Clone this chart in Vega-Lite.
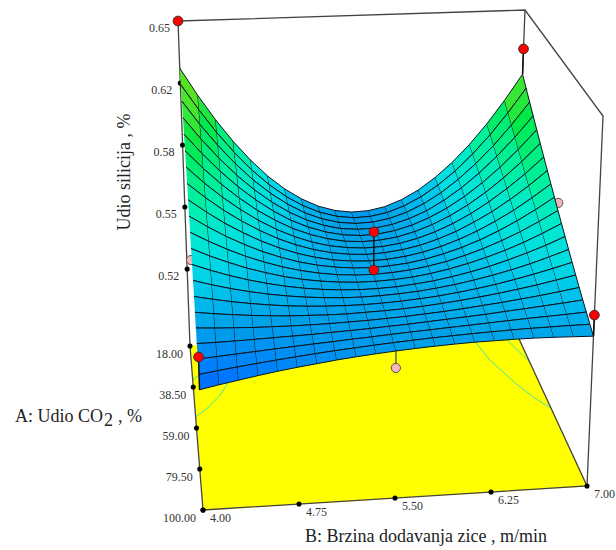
{"$schema":"https://vega.github.io/schema/vega-lite/v6.json","width":616,"height":550,"padding":0,"autosize":{"type":"fit","contains":"padding"},"background":"white","config":{"view":{"stroke":null}},
"data":{"values":[
{"k":"floor","o":0,"A":18,"B":4,"z":0.4796},{"k":"floor","o":1,"A":18,"B":7,"z":0.4796},{"k":"floor","o":2,"A":100,"B":7,"z":0.4796},{"k":"floor","o":3,"A":100,"B":4,"z":0.4796},
{"k":"frame","g":"a","o":0,"A":18,"B":4,"z":0.65},{"k":"frame","g":"a","o":1,"A":18,"B":7,"z":0.65},{"k":"frame","g":"a","o":2,"A":100,"B":7,"z":0.65},{"k":"frame","g":"a","o":3,"A":100,"B":7,"z":0.4796},
{"k":"frame","g":"b","o":0,"A":18,"B":4,"z":0.65},{"k":"frame","g":"b","o":1,"A":18,"B":4,"z":0.4796},{"k":"frame","g":"b","o":2,"A":100,"B":4,"z":0.4796},{"k":"frame","g":"b","o":3,"A":100,"B":7,"z":0.4796},{"k":"frame","g":"b","o":4,"A":18,"B":7,"z":0.4796},
{"k":"frame","g":"c","o":0,"A":18,"B":7,"z":0.65},{"k":"frame","g":"c","o":1,"A":18,"B":7,"z":0.6155},
{"k":"cont","g":"a","o":0,"A":53.5,"B":4,"z":0.4796},{"k":"cont","g":"a","o":1,"A":48.9,"B":4.12,"z":0.4796},{"k":"cont","g":"a","o":2,"A":43.3,"B":4.23,"z":0.4796},{"k":"cont","g":"a","o":3,"A":37.5,"B":4.31,"z":0.4796},
{"k":"cont","g":"b","o":0,"A":35,"B":4,"z":0.4796},{"k":"cont","g":"b","o":1,"A":33.2,"B":4.05,"z":0.4796},
{"k":"cont","g":"c","o":0,"A":24.8,"B":6.6,"z":0.4796},{"k":"cont","g":"c","o":1,"A":34.2,"B":6.66,"z":0.4796},{"k":"cont","g":"c","o":2,"A":46,"B":6.79,"z":0.4796},{"k":"cont","g":"c","o":3,"A":54.5,"B":6.9,"z":0.4796},{"k":"cont","g":"c","o":4,"A":60,"B":7,"z":0.4796},
{"k":"cont","g":"d","o":0,"A":24.8,"B":6.89,"z":0.4796},{"k":"cont","g":"d","o":1,"A":36.5,"B":7,"z":0.4796},
{"k":"zl","t":"0.65","A":18,"B":4,"z":0.65},{"k":"zl","t":"0.62","A":18,"B":4,"z":0.6175},{"k":"zl","t":"0.58","A":18,"B":4,"z":0.585},{"k":"zl","t":"0.55","A":18,"B":4,"z":0.5525},{"k":"zl","t":"0.52","A":18,"B":4,"z":0.52},
{"k":"al","t":"18.00","A":18,"B":4,"z":0.4796},{"k":"al","t":"38.50","A":38.5,"B":4,"z":0.4796},{"k":"al","t":"59.00","A":59,"B":4,"z":0.4796},{"k":"al","t":"79.50","A":79.5,"B":4,"z":0.4796},{"k":"al","t":"100.00","A":100,"B":4,"z":0.4796},
{"k":"bl","t":"4.00","A":100,"B":4,"z":0.4796},{"k":"bl","t":"4.75","A":100,"B":4.75,"z":0.4796},{"k":"bl","t":"5.50","A":100,"B":5.5,"z":0.4796},{"k":"bl","t":"6.25","A":100,"B":6.25,"z":0.4796},{"k":"bl","t":"7.00","A":100,"B":7,"z":0.4796},
{"k":"tz","t":"Udio silicija , %","A":18,"B":4,"z":0.585},{"k":"ta","t":"A: Udio CO","A":59,"B":4,"z":0.4796},{"k":"ta2","t":"2","A":59,"B":4,"z":0.4796},{"k":"ta3","t":", %","A":59,"B":4,"z":0.4796},{"k":"tb","t":"B: Brzina dodavanja zice , m/min","A":100,"B":5.5,"z":0.4796},
{"k":"pink","g":"a","o":0,"A":100,"B":5.5,"z":0.5387},{"k":"pink","g":"b","o":0,"A":59,"B":7,"z":0.5805},{"k":"pink","g":"c","o":0,"A":59,"B":4,"z":0.5608},
{"k":"pstem","g":"a","o":0,"A":100,"B":5.5,"z":0.5387},{"k":"pstem","g":"a","o":1,"A":100,"B":5.5,"z":0.5464},
{"k":"red","A":18,"B":4,"z":0.65},{"k":"red","A":18,"B":7,"z":0.629},{"k":"red","A":100,"B":7,"z":0.5583},{"k":"red","A":100,"B":4,"z":0.5482},{"k":"red","A":59,"B":5.5,"z":0.5703},{"k":"red","A":59,"B":5.5,"z":0.5516},
{"k":"rstem","g":"a","o":0,"A":18,"B":7,"z":0.629},{"k":"rstem","g":"a","o":1,"A":18,"B":7,"z":0.6155},{"k":"rstem","g":"b","o":0,"A":100,"B":7,"z":0.5583},{"k":"rstem","g":"b","o":1,"A":100,"B":7,"z":0.5487},{"k":"rstem","g":"c","o":0,"A":100,"B":4,"z":0.5482},{"k":"rstem","g":"c","o":1,"A":100,"B":4,"z":0.5334},{"k":"rstem","g":"d","o":0,"A":59,"B":5.5,"z":0.5703},{"k":"rstem","g":"d","o":1,"A":59,"B":5.5,"z":0.5495},
{"A":18,"B":4,"z":0.6253},{"A":18,"B":4.15,"z":0.6106},{"A":18,"B":4.3,"z":0.5974},{"A":18,"B":4.45,"z":0.5857},{"A":18,"B":4.6,"z":0.5755},{"A":18,"B":4.75,"z":0.5667},{"A":18,"B":4.9,"z":0.5595},{"A":18,"B":5.05,"z":0.5538},{"A":18,"B":5.2,"z":0.5495},{"A":18,"B":5.35,"z":0.5468},{"A":18,"B":5.5,"z":0.5455},{"A":18,"B":5.65,"z":0.5458},{"A":18,"B":5.8,"z":0.5475},{"A":18,"B":5.95,"z":0.5508},{"A":18,"B":6.1,"z":0.5555},{"A":18,"B":6.25,"z":0.5618},{"A":18,"B":6.4,"z":0.5695},{"A":18,"B":6.55,"z":0.5787},{"A":18,"B":6.7,"z":0.5894},{"A":18,"B":6.85,"z":0.6017},{"A":18,"B":7,"z":0.6154},
{"A":22.1,"B":4,"z":0.6197},{"A":22.1,"B":4.15,"z":0.6062},{"A":22.1,"B":4.3,"z":0.594},{"A":22.1,"B":4.45,"z":0.5832},{"A":22.1,"B":4.6,"z":0.5737},{"A":22.1,"B":4.75,"z":0.5657},{"A":22.1,"B":4.9,"z":0.559},{"A":22.1,"B":5.05,"z":0.5538},{"A":22.1,"B":5.2,"z":0.5499},{"A":22.1,"B":5.35,"z":0.5474},{"A":22.1,"B":5.5,"z":0.5462},{"A":22.1,"B":5.65,"z":0.5465},{"A":22.1,"B":5.8,"z":0.5481},{"A":22.1,"B":5.95,"z":0.5512},{"A":22.1,"B":6.1,"z":0.5556},{"A":22.1,"B":6.25,"z":0.5614},{"A":22.1,"B":6.4,"z":0.5685},{"A":22.1,"B":6.55,"z":0.5771},{"A":22.1,"B":6.7,"z":0.587},{"A":22.1,"B":6.85,"z":0.5983},{"A":22.1,"B":7,"z":0.611},
{"A":26.2,"B":4,"z":0.6143},{"A":26.2,"B":4.15,"z":0.6018},{"A":26.2,"B":4.3,"z":0.5906},{"A":26.2,"B":4.45,"z":0.5807},{"A":26.2,"B":4.6,"z":0.572},{"A":26.2,"B":4.75,"z":0.5647},{"A":26.2,"B":4.9,"z":0.5586},{"A":26.2,"B":5.05,"z":0.5537},{"A":26.2,"B":5.2,"z":0.5502},{"A":26.2,"B":5.35,"z":0.5479},{"A":26.2,"B":5.5,"z":0.5469},{"A":26.2,"B":5.65,"z":0.5472},{"A":26.2,"B":5.8,"z":0.5487},{"A":26.2,"B":5.95,"z":0.5515},{"A":26.2,"B":6.1,"z":0.5556},{"A":26.2,"B":6.25,"z":0.5609},{"A":26.2,"B":6.4,"z":0.5676},{"A":26.2,"B":6.55,"z":0.5755},{"A":26.2,"B":6.7,"z":0.5846},{"A":26.2,"B":6.85,"z":0.5951},{"A":26.2,"B":7,"z":0.6068},
{"A":30.3,"B":4,"z":0.6089},{"A":30.3,"B":4.15,"z":0.5975},{"A":30.3,"B":4.3,"z":0.5873},{"A":30.3,"B":4.45,"z":0.5782},{"A":30.3,"B":4.6,"z":0.5703},{"A":30.3,"B":4.75,"z":0.5636},{"A":30.3,"B":4.9,"z":0.558},{"A":30.3,"B":5.05,"z":0.5536},{"A":30.3,"B":5.2,"z":0.5504},{"A":30.3,"B":5.35,"z":0.5483},{"A":30.3,"B":5.5,"z":0.5475},{"A":30.3,"B":5.65,"z":0.5477},{"A":30.3,"B":5.8,"z":0.5492},{"A":30.3,"B":5.95,"z":0.5518},{"A":30.3,"B":6.1,"z":0.5555},{"A":30.3,"B":6.25,"z":0.5605},{"A":30.3,"B":6.4,"z":0.5666},{"A":30.3,"B":6.55,"z":0.5739},{"A":30.3,"B":6.7,"z":0.5823},{"A":30.3,"B":6.85,"z":0.5919},{"A":30.3,"B":7,"z":0.6027},
{"A":34.4,"B":4,"z":0.6036},{"A":34.4,"B":4.15,"z":0.5933},{"A":34.4,"B":4.3,"z":0.584},{"A":34.4,"B":4.45,"z":0.5757},{"A":34.4,"B":4.6,"z":0.5686},{"A":34.4,"B":4.75,"z":0.5625},{"A":34.4,"B":4.9,"z":0.5574},{"A":34.4,"B":5.05,"z":0.5535},{"A":34.4,"B":5.2,"z":0.5506},{"A":34.4,"B":5.35,"z":0.5487},{"A":34.4,"B":5.5,"z":0.5479},{"A":34.4,"B":5.65,"z":0.5482},{"A":34.4,"B":5.8,"z":0.5496},{"A":34.4,"B":5.95,"z":0.552},{"A":34.4,"B":6.1,"z":0.5555},{"A":34.4,"B":6.25,"z":0.56},{"A":34.4,"B":6.4,"z":0.5656},{"A":34.4,"B":6.55,"z":0.5723},{"A":34.4,"B":6.7,"z":0.58},{"A":34.4,"B":6.85,"z":0.5888},{"A":34.4,"B":7,"z":0.5986},
{"A":38.5,"B":4,"z":0.5984},{"A":38.5,"B":4.15,"z":0.5891},{"A":38.5,"B":4.3,"z":0.5807},{"A":38.5,"B":4.45,"z":0.5733},{"A":38.5,"B":4.6,"z":0.5668},{"A":38.5,"B":4.75,"z":0.5614},{"A":38.5,"B":4.9,"z":0.5568},{"A":38.5,"B":5.05,"z":0.5533},{"A":38.5,"B":5.2,"z":0.5507},{"A":38.5,"B":5.35,"z":0.549},{"A":38.5,"B":5.5,"z":0.5484},{"A":38.5,"B":5.65,"z":0.5487},{"A":38.5,"B":5.8,"z":0.5499},{"A":38.5,"B":5.95,"z":0.5522},{"A":38.5,"B":6.1,"z":0.5554},{"A":38.5,"B":6.25,"z":0.5595},{"A":38.5,"B":6.4,"z":0.5646},{"A":38.5,"B":6.55,"z":0.5707},{"A":38.5,"B":6.7,"z":0.5778},{"A":38.5,"B":6.85,"z":0.5858},{"A":38.5,"B":7,"z":0.5947},
{"A":42.6,"B":4,"z":0.5934},{"A":42.6,"B":4.15,"z":0.585},{"A":42.6,"B":4.3,"z":0.5775},{"A":42.6,"B":4.45,"z":0.5709},{"A":42.6,"B":4.6,"z":0.5651},{"A":42.6,"B":4.75,"z":0.5602},{"A":42.6,"B":4.9,"z":0.5562},{"A":42.6,"B":5.05,"z":0.553},{"A":42.6,"B":5.2,"z":0.5507},{"A":42.6,"B":5.35,"z":0.5493},{"A":42.6,"B":5.5,"z":0.5487},{"A":42.6,"B":5.65,"z":0.549},{"A":42.6,"B":5.8,"z":0.5502},{"A":42.6,"B":5.95,"z":0.5523},{"A":42.6,"B":6.1,"z":0.5552},{"A":42.6,"B":6.25,"z":0.559},{"A":42.6,"B":6.4,"z":0.5636},{"A":42.6,"B":6.55,"z":0.5692},{"A":42.6,"B":6.7,"z":0.5756},{"A":42.6,"B":6.85,"z":0.5828},{"A":42.6,"B":7,"z":0.5909},
{"A":46.7,"B":4,"z":0.5884},{"A":46.7,"B":4.15,"z":0.581},{"A":46.7,"B":4.3,"z":0.5743},{"A":46.7,"B":4.45,"z":0.5685},{"A":46.7,"B":4.6,"z":0.5634},{"A":46.7,"B":4.75,"z":0.559},{"A":46.7,"B":4.9,"z":0.5555},{"A":46.7,"B":5.05,"z":0.5527},{"A":46.7,"B":5.2,"z":0.5507},{"A":46.7,"B":5.35,"z":0.5495},{"A":46.7,"B":5.5,"z":0.549},{"A":46.7,"B":5.65,"z":0.5494},{"A":46.7,"B":5.8,"z":0.5505},{"A":46.7,"B":5.95,"z":0.5523},{"A":46.7,"B":6.1,"z":0.555},{"A":46.7,"B":6.25,"z":0.5584},{"A":46.7,"B":6.4,"z":0.5627},{"A":46.7,"B":6.55,"z":0.5676},{"A":46.7,"B":6.7,"z":0.5734},{"A":46.7,"B":6.85,"z":0.5799},{"A":46.7,"B":7,"z":0.5872},
{"A":50.8,"B":4,"z":0.5836},{"A":50.8,"B":4.15,"z":0.5771},{"A":50.8,"B":4.3,"z":0.5712},{"A":50.8,"B":4.45,"z":0.5661},{"A":50.8,"B":4.6,"z":0.5616},{"A":50.8,"B":4.75,"z":0.5578},{"A":50.8,"B":4.9,"z":0.5547},{"A":50.8,"B":5.05,"z":0.5523},{"A":50.8,"B":5.2,"z":0.5506},{"A":50.8,"B":5.35,"z":0.5496},{"A":50.8,"B":5.5,"z":0.5492},{"A":50.8,"B":5.65,"z":0.5496},{"A":50.8,"B":5.8,"z":0.5506},{"A":50.8,"B":5.95,"z":0.5523},{"A":50.8,"B":6.1,"z":0.5547},{"A":50.8,"B":6.25,"z":0.5578},{"A":50.8,"B":6.4,"z":0.5616},{"A":50.8,"B":6.55,"z":0.5661},{"A":50.8,"B":6.7,"z":0.5712},{"A":50.8,"B":6.85,"z":0.5771},{"A":50.8,"B":7,"z":0.5836},
{"A":54.9,"B":4,"z":0.5788},{"A":54.9,"B":4.15,"z":0.5732},{"A":54.9,"B":4.3,"z":0.5681},{"A":54.9,"B":4.45,"z":0.5637},{"A":54.9,"B":4.6,"z":0.5598},{"A":54.9,"B":4.75,"z":0.5566},{"A":54.9,"B":4.9,"z":0.5539},{"A":54.9,"B":5.05,"z":0.5519},{"A":54.9,"B":5.2,"z":0.5505},{"A":54.9,"B":5.35,"z":0.5496},{"A":54.9,"B":5.5,"z":0.5494},{"A":54.9,"B":5.65,"z":0.5498},{"A":54.9,"B":5.8,"z":0.5507},{"A":54.9,"B":5.95,"z":0.5523},{"A":54.9,"B":6.1,"z":0.5545},{"A":54.9,"B":6.25,"z":0.5572},{"A":54.9,"B":6.4,"z":0.5606},{"A":54.9,"B":6.55,"z":0.5646},{"A":54.9,"B":6.7,"z":0.5692},{"A":54.9,"B":6.85,"z":0.5744},{"A":54.9,"B":7,"z":0.5801},
{"A":59,"B":4,"z":0.5742},{"A":59,"B":4.15,"z":0.5694},{"A":59,"B":4.3,"z":0.5651},{"A":59,"B":4.45,"z":0.5613},{"A":59,"B":4.6,"z":0.5581},{"A":59,"B":4.75,"z":0.5553},{"A":59,"B":4.9,"z":0.5531},{"A":59,"B":5.05,"z":0.5514},{"A":59,"B":5.2,"z":0.5502},{"A":59,"B":5.35,"z":0.5496},{"A":59,"B":5.5,"z":0.5495},{"A":59,"B":5.65,"z":0.5499},{"A":59,"B":5.8,"z":0.5508},{"A":59,"B":5.95,"z":0.5522},{"A":59,"B":6.1,"z":0.5541},{"A":59,"B":6.25,"z":0.5566},{"A":59,"B":6.4,"z":0.5596},{"A":59,"B":6.55,"z":0.5631},{"A":59,"B":6.7,"z":0.5671},{"A":59,"B":6.85,"z":0.5717},{"A":59,"B":7,"z":0.5767},
{"A":63.1,"B":4,"z":0.5696},{"A":63.1,"B":4.15,"z":0.5656},{"A":63.1,"B":4.3,"z":0.5621},{"A":63.1,"B":4.45,"z":0.5589},{"A":63.1,"B":4.6,"z":0.5563},{"A":63.1,"B":4.75,"z":0.554},{"A":63.1,"B":4.9,"z":0.5522},{"A":63.1,"B":5.05,"z":0.5509},{"A":63.1,"B":5.2,"z":0.55},{"A":63.1,"B":5.35,"z":0.5495},{"A":63.1,"B":5.5,"z":0.5495},{"A":63.1,"B":5.65,"z":0.5499},{"A":63.1,"B":5.8,"z":0.5507},{"A":63.1,"B":5.95,"z":0.552},{"A":63.1,"B":6.1,"z":0.5538},{"A":63.1,"B":6.25,"z":0.556},{"A":63.1,"B":6.4,"z":0.5586},{"A":63.1,"B":6.55,"z":0.5616},{"A":63.1,"B":6.7,"z":0.5651},{"A":63.1,"B":6.85,"z":0.5691},{"A":63.1,"B":7,"z":0.5735},
{"A":67.2,"B":4,"z":0.5652},{"A":67.2,"B":4.15,"z":0.562},{"A":67.2,"B":4.3,"z":0.5591},{"A":67.2,"B":4.45,"z":0.5566},{"A":67.2,"B":4.6,"z":0.5545},{"A":67.2,"B":4.75,"z":0.5527},{"A":67.2,"B":4.9,"z":0.5513},{"A":67.2,"B":5.05,"z":0.5503},{"A":67.2,"B":5.2,"z":0.5496},{"A":67.2,"B":5.35,"z":0.5493},{"A":67.2,"B":5.5,"z":0.5494},{"A":67.2,"B":5.65,"z":0.5498},{"A":67.2,"B":5.8,"z":0.5507},{"A":67.2,"B":5.95,"z":0.5518},{"A":67.2,"B":6.1,"z":0.5534},{"A":67.2,"B":6.25,"z":0.5553},{"A":67.2,"B":6.4,"z":0.5575},{"A":67.2,"B":6.55,"z":0.5602},{"A":67.2,"B":6.7,"z":0.5632},{"A":67.2,"B":6.85,"z":0.5665},{"A":67.2,"B":7,"z":0.5703},
{"A":71.3,"B":4,"z":0.5609},{"A":71.3,"B":4.15,"z":0.5584},{"A":71.3,"B":4.3,"z":0.5562},{"A":71.3,"B":4.45,"z":0.5543},{"A":71.3,"B":4.6,"z":0.5527},{"A":71.3,"B":4.75,"z":0.5514},{"A":71.3,"B":4.9,"z":0.5504},{"A":71.3,"B":5.05,"z":0.5497},{"A":71.3,"B":5.2,"z":0.5492},{"A":71.3,"B":5.35,"z":0.5491},{"A":71.3,"B":5.5,"z":0.5493},{"A":71.3,"B":5.65,"z":0.5498},{"A":71.3,"B":5.8,"z":0.5505},{"A":71.3,"B":5.95,"z":0.5516},{"A":71.3,"B":6.1,"z":0.5529},{"A":71.3,"B":6.25,"z":0.5546},{"A":71.3,"B":6.4,"z":0.5565},{"A":71.3,"B":6.55,"z":0.5587},{"A":71.3,"B":6.7,"z":0.5612},{"A":71.3,"B":6.85,"z":0.5641},{"A":71.3,"B":7,"z":0.5672},
{"A":75.4,"B":4,"z":0.5566},{"A":75.4,"B":4.15,"z":0.5549},{"A":75.4,"B":4.3,"z":0.5533},{"A":75.4,"B":4.45,"z":0.552},{"A":75.4,"B":4.6,"z":0.5509},{"A":75.4,"B":4.75,"z":0.55},{"A":75.4,"B":4.9,"z":0.5494},{"A":75.4,"B":5.05,"z":0.549},{"A":75.4,"B":5.2,"z":0.5488},{"A":75.4,"B":5.35,"z":0.5488},{"A":75.4,"B":5.5,"z":0.5491},{"A":75.4,"B":5.65,"z":0.5496},{"A":75.4,"B":5.8,"z":0.5503},{"A":75.4,"B":5.95,"z":0.5512},{"A":75.4,"B":6.1,"z":0.5524},{"A":75.4,"B":6.25,"z":0.5538},{"A":75.4,"B":6.4,"z":0.5554},{"A":75.4,"B":6.55,"z":0.5573},{"A":75.4,"B":6.7,"z":0.5594},{"A":75.4,"B":6.85,"z":0.5617},{"A":75.4,"B":7,"z":0.5642},
{"A":79.5,"B":4,"z":0.5525},{"A":79.5,"B":4.15,"z":0.5514},{"A":79.5,"B":4.3,"z":0.5505},{"A":79.5,"B":4.45,"z":0.5497},{"A":79.5,"B":4.6,"z":0.5491},{"A":79.5,"B":4.75,"z":0.5486},{"A":79.5,"B":4.9,"z":0.5484},{"A":79.5,"B":5.05,"z":0.5482},{"A":79.5,"B":5.2,"z":0.5482},{"A":79.5,"B":5.35,"z":0.5485},{"A":79.5,"B":5.5,"z":0.5488},{"A":79.5,"B":5.65,"z":0.5493},{"A":79.5,"B":5.8,"z":0.55},{"A":79.5,"B":5.95,"z":0.5509},{"A":79.5,"B":6.1,"z":0.5519},{"A":79.5,"B":6.25,"z":0.5531},{"A":79.5,"B":6.4,"z":0.5544},{"A":79.5,"B":6.55,"z":0.5559},{"A":79.5,"B":6.7,"z":0.5575},{"A":79.5,"B":6.85,"z":0.5594},{"A":79.5,"B":7,"z":0.5613},
{"A":83.6,"B":4,"z":0.5485},{"A":83.6,"B":4.15,"z":0.548},{"A":83.6,"B":4.3,"z":0.5477},{"A":83.6,"B":4.45,"z":0.5474},{"A":83.6,"B":4.6,"z":0.5473},{"A":83.6,"B":4.75,"z":0.5472},{"A":83.6,"B":4.9,"z":0.5473},{"A":83.6,"B":5.05,"z":0.5474},{"A":83.6,"B":5.2,"z":0.5477},{"A":83.6,"B":5.35,"z":0.548},{"A":83.6,"B":5.5,"z":0.5485},{"A":83.6,"B":5.65,"z":0.549},{"A":83.6,"B":5.8,"z":0.5497},{"A":83.6,"B":5.95,"z":0.5504},{"A":83.6,"B":6.1,"z":0.5513},{"A":83.6,"B":6.25,"z":0.5523},{"A":83.6,"B":6.4,"z":0.5533},{"A":83.6,"B":6.55,"z":0.5545},{"A":83.6,"B":6.7,"z":0.5557},{"A":83.6,"B":6.85,"z":0.5571},{"A":83.6,"B":7,"z":0.5586},
{"A":87.7,"B":4,"z":0.5446},{"A":87.7,"B":4.15,"z":0.5447},{"A":87.7,"B":4.3,"z":0.5449},{"A":87.7,"B":4.45,"z":0.5452},{"A":87.7,"B":4.6,"z":0.5455},{"A":87.7,"B":4.75,"z":0.5458},{"A":87.7,"B":4.9,"z":0.5461},{"A":87.7,"B":5.05,"z":0.5466},{"A":87.7,"B":5.2,"z":0.547},{"A":87.7,"B":5.35,"z":0.5475},{"A":87.7,"B":5.5,"z":0.5481},{"A":87.7,"B":5.65,"z":0.5486},{"A":87.7,"B":5.8,"z":0.5493},{"A":87.7,"B":5.95,"z":0.55},{"A":87.7,"B":6.1,"z":0.5507},{"A":87.7,"B":6.25,"z":0.5514},{"A":87.7,"B":6.4,"z":0.5523},{"A":87.7,"B":6.55,"z":0.5531},{"A":87.7,"B":6.7,"z":0.554},{"A":87.7,"B":6.85,"z":0.5549},{"A":87.7,"B":7,"z":0.5559},
{"A":91.8,"B":4,"z":0.5408},{"A":91.8,"B":4.15,"z":0.5415},{"A":91.8,"B":4.3,"z":0.5422},{"A":91.8,"B":4.45,"z":0.5429},{"A":91.8,"B":4.6,"z":0.5436},{"A":91.8,"B":4.75,"z":0.5443},{"A":91.8,"B":4.9,"z":0.545},{"A":91.8,"B":5.05,"z":0.5456},{"A":91.8,"B":5.2,"z":0.5463},{"A":91.8,"B":5.35,"z":0.5469},{"A":91.8,"B":5.5,"z":0.5476},{"A":91.8,"B":5.65,"z":0.5482},{"A":91.8,"B":5.8,"z":0.5488},{"A":91.8,"B":5.95,"z":0.5494},{"A":91.8,"B":6.1,"z":0.55},{"A":91.8,"B":6.25,"z":0.5506},{"A":91.8,"B":6.4,"z":0.5512},{"A":91.8,"B":6.55,"z":0.5518},{"A":91.8,"B":6.7,"z":0.5523},{"A":91.8,"B":6.85,"z":0.5528},{"A":91.8,"B":7,"z":0.5534},
{"A":95.9,"B":4,"z":0.5371},{"A":95.9,"B":4.15,"z":0.5384},{"A":95.9,"B":4.3,"z":0.5396},{"A":95.9,"B":4.45,"z":0.5407},{"A":95.9,"B":4.6,"z":0.5418},{"A":95.9,"B":4.75,"z":0.5428},{"A":95.9,"B":4.9,"z":0.5438},{"A":95.9,"B":5.05,"z":0.5447},{"A":95.9,"B":5.2,"z":0.5455},{"A":95.9,"B":5.35,"z":0.5463},{"A":95.9,"B":5.5,"z":0.547},{"A":95.9,"B":5.65,"z":0.5477},{"A":95.9,"B":5.8,"z":0.5483},{"A":95.9,"B":5.95,"z":0.5488},{"A":95.9,"B":6.1,"z":0.5493},{"A":95.9,"B":6.25,"z":0.5497},{"A":95.9,"B":6.4,"z":0.5501},{"A":95.9,"B":6.55,"z":0.5504},{"A":95.9,"B":6.7,"z":0.5506},{"A":95.9,"B":6.85,"z":0.5508},{"A":95.9,"B":7,"z":0.5509},
{"A":100,"B":4,"z":0.5335},{"A":100,"B":4.15,"z":0.5353},{"A":100,"B":4.3,"z":0.5369},{"A":100,"B":4.45,"z":0.5385},{"A":100,"B":4.6,"z":0.54},{"A":100,"B":4.75,"z":0.5413},{"A":100,"B":4.9,"z":0.5425},{"A":100,"B":5.05,"z":0.5437},{"A":100,"B":5.2,"z":0.5447},{"A":100,"B":5.35,"z":0.5456},{"A":100,"B":5.5,"z":0.5464},{"A":100,"B":5.65,"z":0.5471},{"A":100,"B":5.8,"z":0.5477},{"A":100,"B":5.95,"z":0.5482},{"A":100,"B":6.1,"z":0.5486},{"A":100,"B":6.25,"z":0.5488},{"A":100,"B":6.4,"z":0.549},{"A":100,"B":6.55,"z":0.5491},{"A":100,"B":6.7,"z":0.549},{"A":100,"B":6.85,"z":0.5488},{"A":100,"B":7,"z":0.5486}
]},
"transform":[
{"calculate":"(datum.B-4)/3","as":"u"},{"calculate":"(datum.A-18)/82","as":"v"},{"calculate":"(datum.z-0.4796)/0.1704","as":"w"},
{"calculate":"(1-datum.w)*((1-datum.v)*((1-datum.u)*190+datum.u*513)+datum.v*((1-datum.u)*203+datum.u*587))+datum.w*((1-datum.v)*((1-datum.u)*178+datum.u*525)+datum.v*((1-datum.u)*192+datum.u*603))","as":"px"},
{"calculate":"(1-datum.w)*((1-datum.v)*((1-datum.u)*346+datum.u*326)+datum.v*((1-datum.u)*510+datum.u*486))+datum.w*((1-datum.v)*((1-datum.u)*21+datum.u*10)+datum.v*((1-datum.u)*130+datum.u*116))","as":"py"}
],
"encoding":{"x":{"field":"px","type":"quantitative","axis":null,"scale":{"domain":[0,616],"nice":false,"zero":false}},"y":{"field":"py","type":"quantitative","axis":null,"scale":{"domain":[0,550],"nice":false,"zero":false,"reverse":true}}},
"layer":[
{"transform":[{"filter":"datum.k=='floor'"}],"mark":{"type":"line","fill":"#ffff00","stroke":"#ffff00","strokeWidth":1},"encoding":{"order":{"field":"o"}}},
{"transform":[{"filter":"datum.k=='cont'"}],"mark":{"type":"line","stroke":"#3fe6a8","strokeWidth":1},"encoding":{"detail":{"field":"g"},"order":{"field":"o"}}},
{"transform":[{"filter":"datum.k=='frame'"}],"mark":{"type":"line","stroke":"#444444","strokeWidth":1.3},"encoding":{"detail":{"field":"g"},"order":{"field":"o"}}},
{"transform":[{"filter":"datum.k=='zl'||datum.k=='al'||datum.k=='bl'"}],"mark":{"type":"point","filled":true,"size":26,"color":"#000000","opacity":1}},
{"transform":[{"filter":"datum.k=='pstem'"}],"mark":{"type":"line","stroke":"#556b2f","strokeWidth":1.5},"encoding":{"detail":{"field":"g"},"order":{"field":"o"}}},
{"transform":[{"filter":"datum.k=='pink'"}],"mark":{"type":"point","filled":true,"size":85,"fill":"#f4b6b6","stroke":"#555555","strokeWidth":1,"opacity":1}},
{"transform":[{"filter":"!datum.k"},{"calculate":"round((datum.A-18)/4.1)","as":"i"},{"calculate":"round((datum.B-4)/0.15)","as":"j"},{"calculate":"[datum.i*100+datum.j,datum.i*100+datum.j-1,(datum.i-1)*100+datum.j-1,(datum.i-1)*100+datum.j]","as":"cell"},{"calculate":"[0,1,2,3]","as":"corner"},{"flatten":["cell","corner"]},{"filter":"datum.cell>=0&&datum.cell<2000&&datum.cell%100<20"},{"joinaggregate":[{"op":"mean","field":"z","as":"zm"}],"groupby":["cell"]}],
"mark":{"type":"line","stroke":"#0a1620","strokeWidth":1,"strokeJoin":"round"},
"encoding":{"detail":{"field":"cell"},"order":{"field":"corner"},"fill":{"field":"zm","type":"quantitative","legend":null,"scale":{"domain":[0.533,0.548,0.565,0.582,0.6,0.625],"range":["#0060ff","#00a0e8","#00e0e0","#00f0a0","#00e840","#70e000"]}}}},
{"transform":[{"filter":"datum.k=='rstem'"}],"mark":{"type":"line","stroke":"#111111","strokeWidth":1.5},"encoding":{"detail":{"field":"g"},"order":{"field":"o"}}},
{"transform":[{"filter":"datum.k=='red'"}],"mark":{"type":"point","filled":true,"size":95,"fill":"#ff0000","stroke":"#333333","strokeWidth":1,"opacity":1}},
{"transform":[{"filter":"datum.k=='zl'"}],"mark":{"type":"text","font":"Liberation Serif","fontSize":12,"color":"#333333","align":"right","baseline":"middle","dx":-8,"dy":7},"encoding":{"text":{"field":"t"}}},
{"transform":[{"filter":"datum.k=='al'"}],"mark":{"type":"text","font":"Liberation Serif","fontSize":12,"color":"#333333","align":"right","baseline":"middle","dx":-7,"dy":8},"encoding":{"text":{"field":"t"}}},
{"transform":[{"filter":"datum.k=='bl'"}],"mark":{"type":"text","font":"Liberation Serif","fontSize":12,"color":"#333333","align":"left","baseline":"middle","dx":7,"dy":8},"encoding":{"text":{"field":"t"}}},
{"transform":[{"filter":"datum.k=='tz'"}],"mark":{"type":"text","font":"Liberation Serif","fontSize":18,"color":"#222222","align":"center","baseline":"middle","angle":270,"dx":-27,"dy":-58},"encoding":{"text":{"field":"t"}}},
{"transform":[{"filter":"datum.k=='ta'"}],"mark":{"type":"text","font":"Liberation Serif","fontSize":18,"color":"#222222","align":"left","baseline":"middle","dx":-181.5,"dy":-11},"encoding":{"text":{"field":"t"}}},
{"transform":[{"filter":"datum.k=='ta2'"}],"mark":{"type":"text","font":"Liberation Serif","fontSize":18,"color":"#222222","align":"left","baseline":"middle","dx":-92.5,"dy":-7},"encoding":{"text":{"field":"t"}}},
{"transform":[{"filter":"datum.k=='ta3'"}],"mark":{"type":"text","font":"Liberation Serif","fontSize":18,"color":"#222222","align":"left","baseline":"middle","dx":-78.5,"dy":-11},"encoding":{"text":{"field":"t"}}},
{"transform":[{"filter":"datum.k=='tb'"}],"mark":{"type":"text","font":"Liberation Serif","fontSize":18,"color":"#222222","align":"center","baseline":"middle","dx":31,"dy":39},"encoding":{"text":{"field":"t"}}}
]}
